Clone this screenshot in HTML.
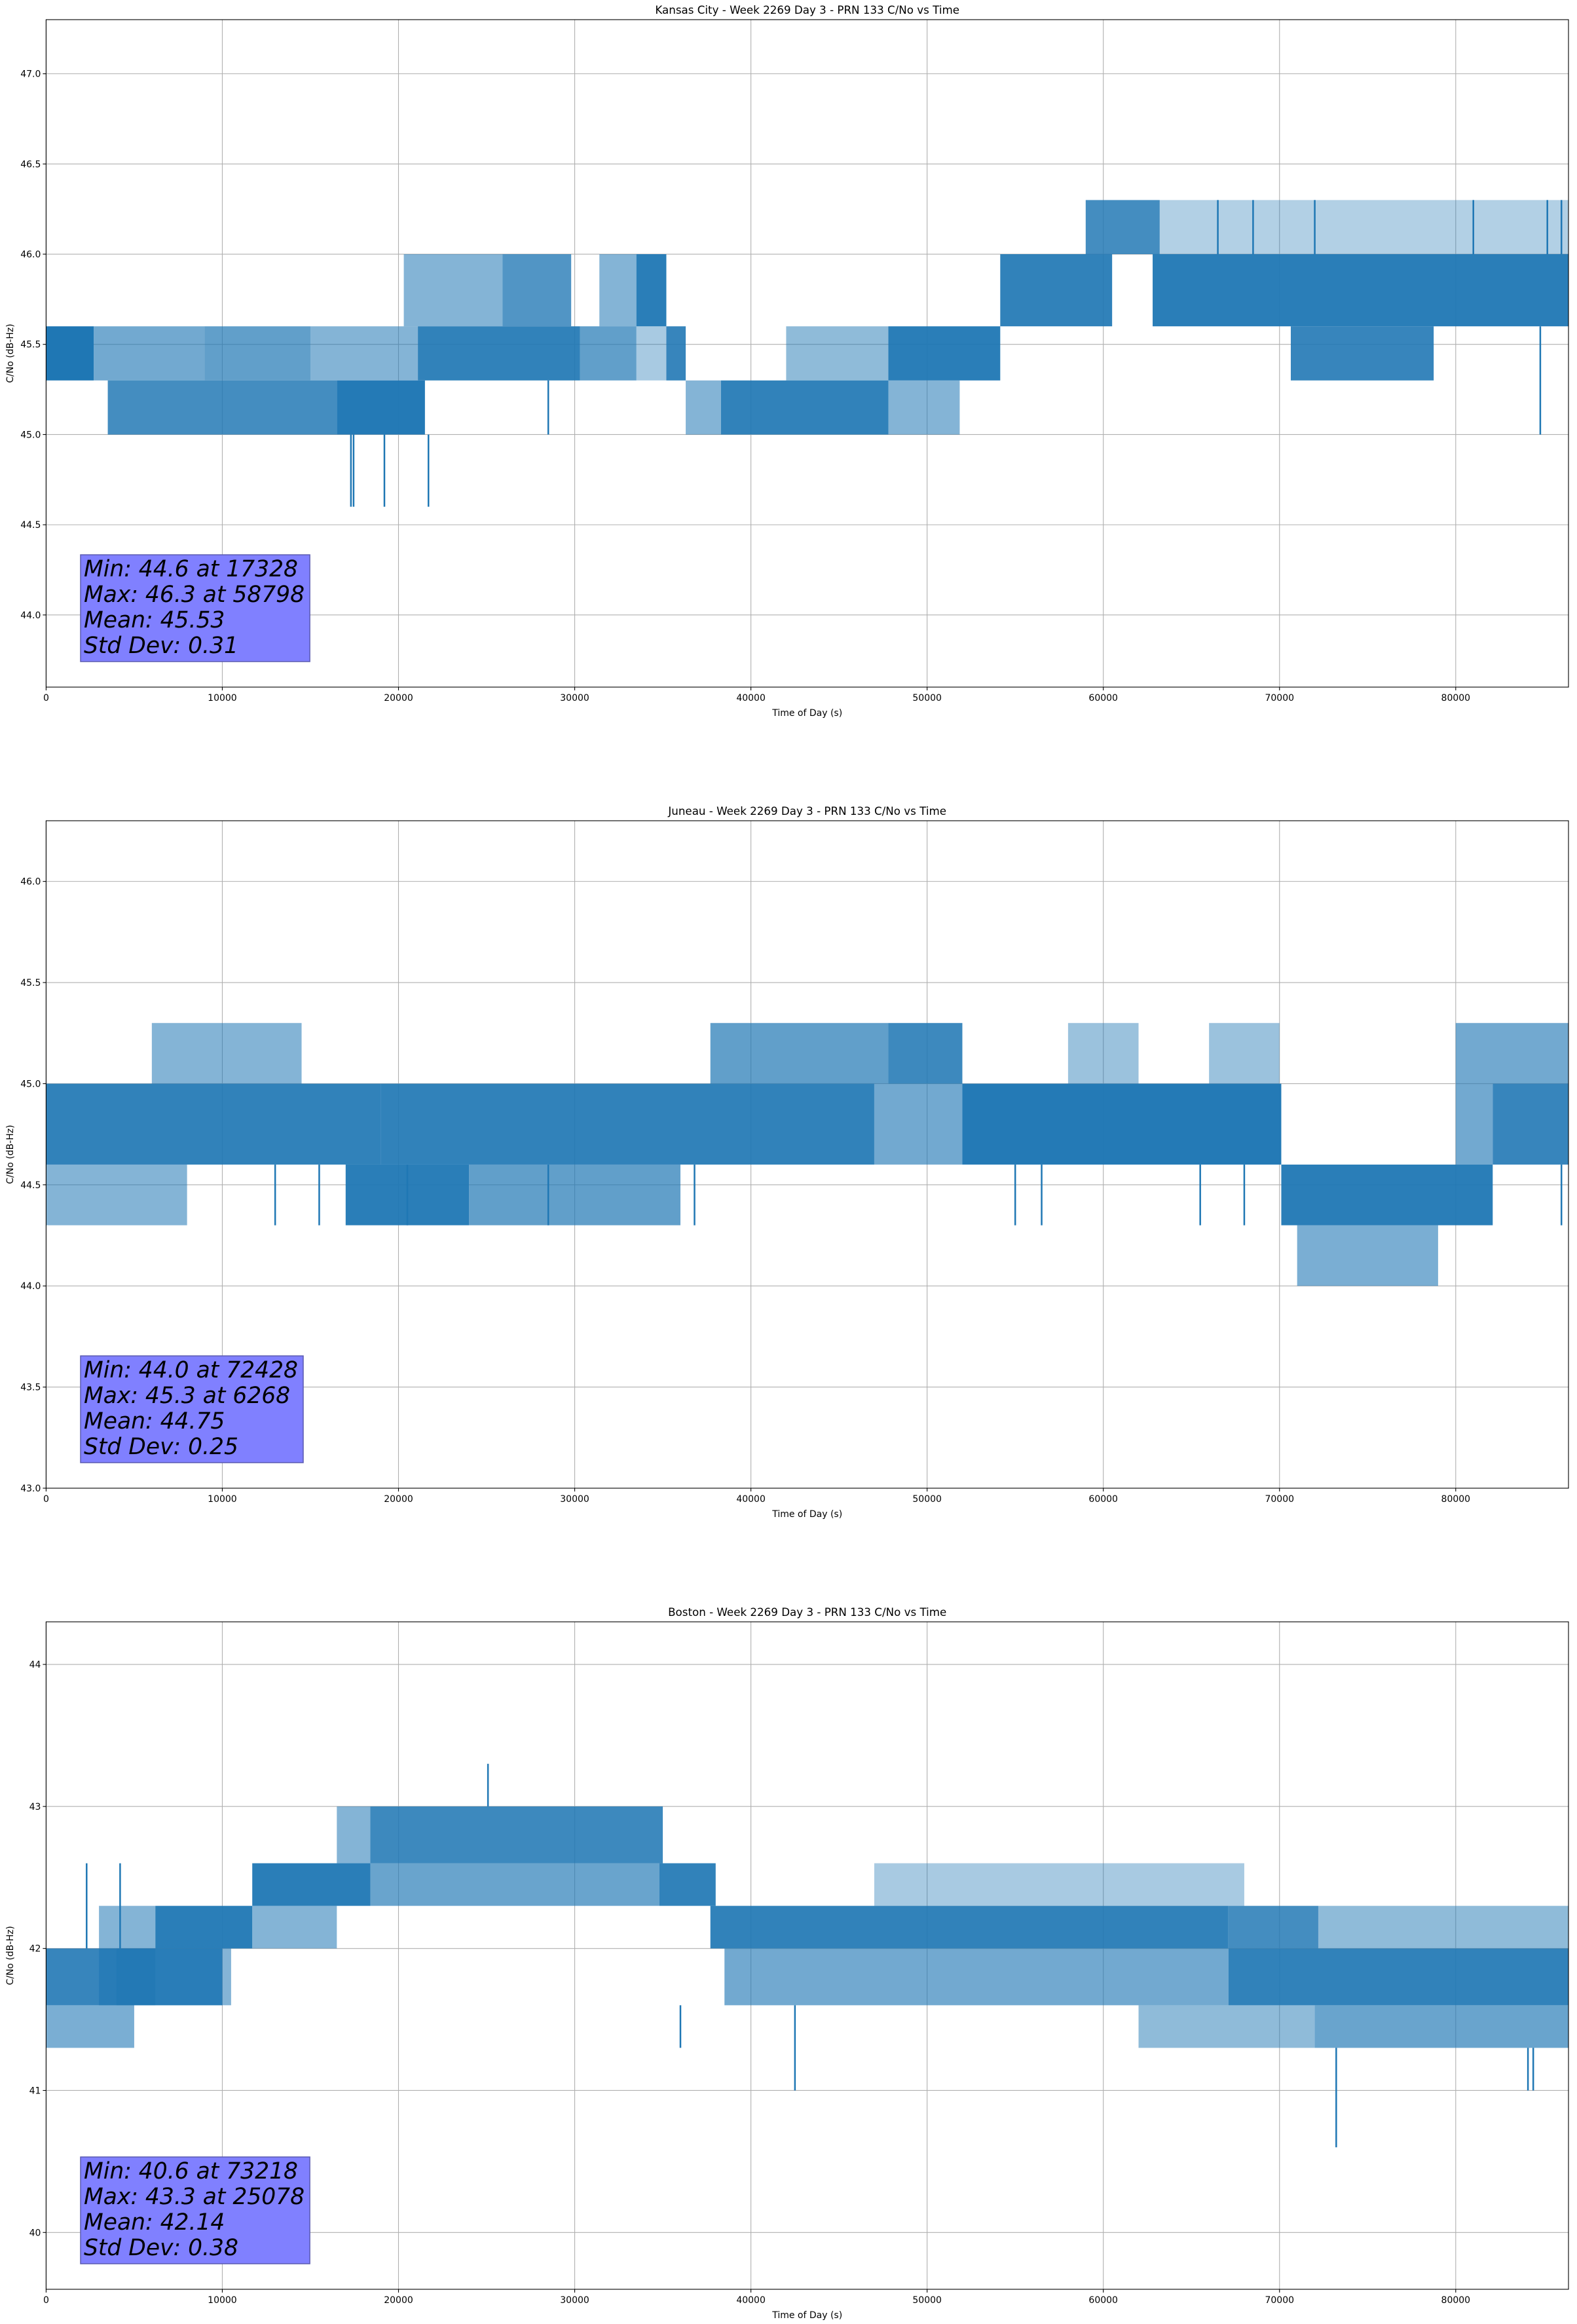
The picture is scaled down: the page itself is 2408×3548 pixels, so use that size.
<!DOCTYPE html>
<html><head><meta charset="utf-8">
<style>
html,body{margin:0;padding:0;background:#fff;}
svg{display:block;font-family:"DejaVu Sans","Liberation Sans",sans-serif;}
</style></head>
<body>
<svg id="fig" width="2408" height="3548" xmlns="http://www.w3.org/2000/svg"></svg>
<script>
// ---------- Chart 1: Kansas City ----------
const c1Title = "Kansas City - Week 2269 Day 3 - PRN 133 C/No vs Time";
const c1YTicks = [44.0, 44.5, 45.0, 45.5, 46.0, 46.5, 47.0];
const c1YTickLabels = ["44.0","44.5","45.0","45.5","46.0","46.5","47.0"];
const c1YRange = [43.6, 47.3];
const c1BandStart = [0, 2700, 9000, 3500, 16500, 15000, 21100, 30300, 33500, 35200, 20300, 25900, 31400, 33500, 36300, 38300, 47800, 42000, 47800, 54150, 62800, 70640, 59000, 63200];
const c1BandEnd   = [2700, 9000, 15000, 16500, 21500, 21100, 30300, 33500, 35200, 36300, 25900, 29800, 33500, 35200, 38300, 47800, 51850, 47800, 54150, 60500, 86400, 78750, 63200, 86400];
const c1BandLow   = [45.3, 45.3, 45.3, 45.0, 45.0, 45.3, 45.3, 45.3, 45.3, 45.3, 45.6, 45.6, 45.6, 45.6, 45.0, 45.0, 45.0, 45.3, 45.3, 45.6, 45.6, 45.3, 46.0, 46.0];
const c1BandHigh  = [45.6, 45.6, 45.6, 45.3, 45.3, 45.6, 45.6, 45.6, 45.6, 45.6, 46.0, 46.0, 46.0, 46.0, 45.3, 45.3, 45.3, 45.6, 45.6, 46.0, 46.0, 45.6, 46.3, 46.3];
const c1BandDensity=[1.0, 0.4, 0.5, 0.7, 0.95, 0.3, 0.85, 0.5, 0.15, 0.8, 0.3, 0.6, 0.3, 0.9, 0.3, 0.85, 0.3, 0.25, 0.9, 0.85, 0.9, 0.8, 0.7, 0.12];
const c1SpikeTime = [17300, 17450, 19200, 21700, 28500, 84800, 66500, 68500, 72000, 81000, 85200, 86000];
const c1SpikeFrom = [45.0, 45.0, 45.0, 45.0, 45.3, 45.6, 46.0, 46.0, 46.0, 46.0, 46.0, 46.0];
const c1SpikeTo   = [44.6, 44.6, 44.6, 44.6, 45.0, 45.0, 46.3, 46.3, 46.3, 46.3, 46.3, 46.3];
const c1Stats = ["Min: 44.6 at 17328","Max: 46.3 at 58798","Mean: 45.53","Std Dev: 0.31"];

// ---------- Chart 2: Juneau ----------
const c2Title = "Juneau - Week 2269 Day 3 - PRN 133 C/No vs Time";
const c2YTicks = [43.0, 43.5, 44.0, 44.5, 45.0, 45.5, 46.0];
const c2YTickLabels = ["43.0","43.5","44.0","44.5","45.0","45.5","46.0"];
const c2YRange = [43.0, 46.3];
const c2BandStart = [0, 0, 6000, 17000, 24000, 19000, 47000, 52000, 37700, 47800, 58000, 66000, 80000, 70100, 71000, 82100, 80000];
const c2BandEnd   = [19000, 8000, 14500, 24000, 36000, 47000, 52000, 70100, 47800, 52000, 62000, 70000, 86400, 82100, 79000, 86400, 82100];
const c2BandLow   = [44.6, 44.3, 45.0, 44.3, 44.3, 44.6, 44.6, 44.6, 45.0, 45.0, 45.0, 45.0, 45.0, 44.3, 44.0, 44.6, 44.6];
const c2BandHigh  = [45.0, 44.6, 45.3, 44.6, 44.6, 45.0, 45.0, 45.0, 45.3, 45.3, 45.3, 45.3, 45.3, 44.6, 44.3, 45.0, 45.0];
const c2BandDensity=[0.85, 0.3, 0.3, 0.9, 0.5, 0.85, 0.4, 0.95, 0.5, 0.75, 0.2, 0.2, 0.4, 0.9, 0.35, 0.8, 0.4];
const c2SpikeTime = [13000, 15500, 20500, 28500, 36800, 55000, 56500, 65500, 68000, 86000];
const c2SpikeFrom = [44.6, 44.6, 44.6, 44.6, 44.6, 44.6, 44.6, 44.6, 44.6, 44.6];
const c2SpikeTo   = [44.3, 44.3, 44.3, 44.3, 44.3, 44.3, 44.3, 44.3, 44.3, 44.3];
const c2Stats = ["Min: 44.0 at 72428","Max: 45.3 at 6268","Mean: 44.75","Std Dev: 0.25"];

// ---------- Chart 3: Boston ----------
const c3Title = "Boston - Week 2269 Day 3 - PRN 133 C/No vs Time";
const c3YTicks = [40, 41, 42, 43, 44];
const c3YTickLabels = ["40","41","42","43","44"];
const c3YRange = [39.6, 44.3];
const c3BandStart = [0, 0, 3000, 3000, 6200, 4000, 11700, 11700, 18400, 34800, 16500, 18400, 37700, 67100, 72200, 38500, 67100, 62000, 72000, 47000];
const c3BandEnd   = [10000, 5000, 6200, 6200, 11700, 10500, 18400, 16500, 34800, 38000, 18400, 35000, 67100, 72200, 86400, 67100, 86400, 72000, 86400, 68000];
const c3BandLow   = [41.6, 41.3, 42.0, 41.6, 42.0, 41.6, 42.3, 42.0, 42.3, 42.3, 42.6, 42.6, 42.0, 42.0, 42.0, 41.6, 41.6, 41.3, 41.3, 42.3];
const c3BandHigh  = [42.0, 41.6, 42.3, 42.0, 42.3, 42.0, 42.6, 42.3, 42.6, 42.6, 43.0, 43.0, 42.3, 42.3, 42.3, 42.0, 42.0, 41.6, 41.6, 42.6];
const c3BandDensity=[0.8, 0.35, 0.3, 0.4, 0.9, 0.3, 0.9, 0.3, 0.45, 0.85, 0.3, 0.75, 0.85, 0.7, 0.25, 0.4, 0.85, 0.25, 0.45, 0.15];
const c3SpikeTime = [25078, 36000, 42500, 73218, 84100, 84400, 2300, 4200];
const c3SpikeFrom = [43.0, 41.6, 41.6, 41.3, 41.3, 41.3, 42.0, 42.0];
const c3SpikeTo   = [43.3, 41.3, 41.0, 40.6, 41.0, 41.0, 42.6, 42.6];
const c3Stats = ["Min: 40.6 at 73218","Max: 43.3 at 25078","Mean: 42.14","Std Dev: 0.38"];

const xTicks = [0,10000,20000,30000,40000,50000,60000,70000,80000];
const xTickLabels = ["0","10000","20000","30000","40000","50000","60000","70000","80000"];
const xRange = [0, 86400];

const NS = "http://www.w3.org/2000/svg";
const svg = document.getElementById('fig');
function mk(tag, attrs, parent){
  const e = document.createElementNS(NS, tag);
  for (const k in attrs) e.setAttribute(k, attrs[k]);
  (parent||svg).appendChild(e);
  return e;
}
const PL = 70.4, PR = 2395;
function drawChart(idx, top, title, yTicks, yLabels, yRange, bs, be, bl, bh, bd, st, sf, stt, stats){
  const bottom = top + 1019;
  const g = mk('g', {});
  
  
  const X = t => PL + (t - xRange[0]) / (xRange[1] - xRange[0]) * (PR - PL);
  const Y = v => bottom - (v - yRange[0]) / (yRange[1] - yRange[0]) * (bottom - top);
  const grid = mk('g', {}, g);
  
  
  xTicks.forEach(t => { const l = mk('line', {x1:X(t), x2:X(t), y1:top, y2:bottom, stroke:'#b0b0b0', 'stroke-width':1.1}, grid);
      });
  yTicks.forEach(v => { const l = mk('line', {x1:PL, x2:PR, y1:Y(v), y2:Y(v), stroke:'#b0b0b0', 'stroke-width':1.1}, grid);
      });
  const clip = mk('clipPath', {id:'clip'+idx}, g);
  mk('rect', {x:PL, y:top, width:PR-PL, height:bottom-top}, clip);
  const ser = mk('g', {'clip-path':'url(#clip'+idx+')'}, g);
  
  
  for (let i=0;i<bs.length;i++){
    const r = mk('rect', {x:X(bs[i]), width:X(be[i])-X(bs[i]), y:Y(bh[i]), height:Y(bl[i])-Y(bh[i]), fill:'#1f77b4', 'fill-opacity':Math.min(1, Math.sqrt(bd[i]))}, ser);
    
    
  }
  for (let i=0;i<st.length;i++){
    const l = mk('line', {x1:X(st[i]), x2:X(st[i]), y1:Y(sf[i]), y2:Y(stt[i]), stroke:'#1f77b4', 'stroke-width':2.5}, ser);
    
    
  }
  const fr = mk('rect', {x:PL, y:top, width:PR-PL, height:bottom-top, fill:'none', stroke:'#000', 'stroke-width':1.1}, g);
  
  
  xTicks.forEach((t,i) => {
    mk('line', {x1:X(t), x2:X(t), y1:bottom, y2:bottom+5, stroke:'#000', 'stroke-width':1.1}, g);
    const tx = mk('text', {x:X(t), y:bottom+21, 'font-size':14, 'text-anchor':'middle', fill:'#000'}, g);
    
    
    tx.textContent = xTickLabels[i];
  });
  yTicks.forEach((v,i) => {
    mk('line', {x1:PL-5, x2:PL, y1:Y(v), y2:Y(v), stroke:'#000', 'stroke-width':1.1}, g);
    const tx = mk('text', {x:PL-8, y:Y(v)+5, 'font-size':14, 'text-anchor':'end', fill:'#000'}, g);
    
    
    tx.textContent = yLabels[i];
  });
  const tt = mk('text', {x:(PL+PR)/2, y:top-9, 'font-size':16.7, 'text-anchor':'middle', fill:'#000'}, g);
  
  
  tt.textContent = title;
  const xl = mk('text', {x:(PL+PR)/2, y:bottom+44, 'font-size':14, 'text-anchor':'middle', fill:'#000'}, g);
  
  
  xl.textContent = 'Time of Day (s)';
  const ym = (top+bottom)/2;
  const yl = mk('text', {x:20, y:ym, 'font-size':14, 'text-anchor':'middle', fill:'#000', transform:'rotate(-90 20 '+ym+')'}, g);
  
  
  yl.textContent = 'C/No (dB-Hz)';
  const box = mk('rect', {x:123, y:top+817, width:351, height:163, fill:'#8080ff', stroke:'#5a5ab0', 'stroke-width':1.5}, g);
  
  
  const txt = mk('text', {x:128, y:top+850, 'font-size':34.5, 'font-style':'italic', fill:'#000'}, g);
  
  
  stats.forEach((s,i) => {
    const sp = mk('tspan', {x:128, y:top+850+i*39}, txt);
    sp.textContent = s;
  });
  try { const bb = txt.getBBox(); box.setAttribute('width', bb.width + 13); } catch(e){}
}
drawChart(1, 30, c1Title, c1YTicks, c1YTickLabels, c1YRange, c1BandStart, c1BandEnd, c1BandLow, c1BandHigh, c1BandDensity, c1SpikeTime, c1SpikeFrom, c1SpikeTo, c1Stats);
drawChart(2, 1253, c2Title, c2YTicks, c2YTickLabels, c2YRange, c2BandStart, c2BandEnd, c2BandLow, c2BandHigh, c2BandDensity, c2SpikeTime, c2SpikeFrom, c2SpikeTo, c2Stats);
drawChart(3, 2476, c3Title, c3YTicks, c3YTickLabels, c3YRange, c3BandStart, c3BandEnd, c3BandLow, c3BandHigh, c3BandDensity, c3SpikeTime, c3SpikeFrom, c3SpikeTo, c3Stats);
</script>
</body></html>
